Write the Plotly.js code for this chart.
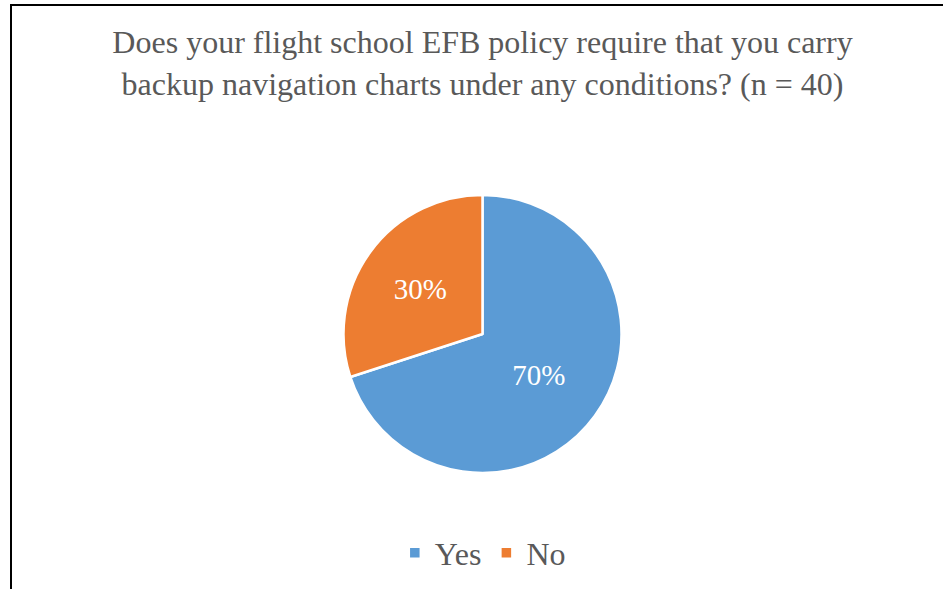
<!DOCTYPE html>
<html>
<head>
<meta charset="utf-8">
<script src="https://cdn.plot.ly/plotly-3.0.1.min.js"></script>
<style>
  html, body { margin: 0; padding: 0; background: #fff; }
  #wrap { position: relative; width: 943px; height: 589px; overflow: hidden; }
  #chart { position: absolute; left: 0; top: 0; width: 943px; height: 589px; }
  #frame { position: absolute; left: 10px; top: 4px; width: 960px; height: 620px;
           border-left: 2px solid #000; border-top: 2px solid #000; pointer-events: none; }
</style>
</head>
<body>
<div id="wrap">
  <div id="chart"></div>
  <div id="frame"></div>
</div>
<script>
const categories = ["Yes", "No"];
const counts = [28, 12];
const colors = ["#5B9BD5", "#ED7D31"];
const titleText = "Does your flight school EFB policy require that you carry<br>backup navigation charts under any conditions? (n = 40)";

const W = 943, H = 589;
const cx = 482.5, cy = 334, r = 139;
const SERIF = "Liberation Serif";

const data = [{
  type: "pie",
  labels: categories,
  values: counts,
  sort: false,
  direction: "clockwise",
  rotation: 0,
  marker: { colors: colors, line: { color: "#ffffff", width: 2.5 } },
  textinfo: "percent",
  texttemplate: "%{percent:.0%}",
  textposition: "inside",
  insidetextorientation: "horizontal",
  textfont: { family: SERIF, size: 29, color: "#ffffff" },
  domain: { x: [(cx - r) / W, (cx + r) / W], y: [(H - cy - r) / H, (H - cy + r) / H] },
  hoverinfo: "label+percent"
}];

const layout = {
  width: W, height: H,
  margin: { l: 0, r: 0, t: 0, b: 0 },
  paper_bgcolor: "#ffffff",
  font: { family: SERIF },
  title: {
    text: titleText,
    font: { family: SERIF, size: 32, color: "#595959" },
    x: 482.5 / W, xanchor: "center",
    y: 1 - 53 / H, yanchor: "middle"
  },
  showlegend: true,
  legend: {
    orientation: "h",
    x: 0.512, xanchor: "center",
    y: 36 / H, yanchor: "middle",
    font: { family: SERIF, size: 32, color: "#595959" },
    itemwidth: 30,
    traceorder: "normal"
  }
};

Plotly.newPlot("chart", data, layout, { displayModeBar: false, staticPlot: true });
</script>
</body>
</html>
